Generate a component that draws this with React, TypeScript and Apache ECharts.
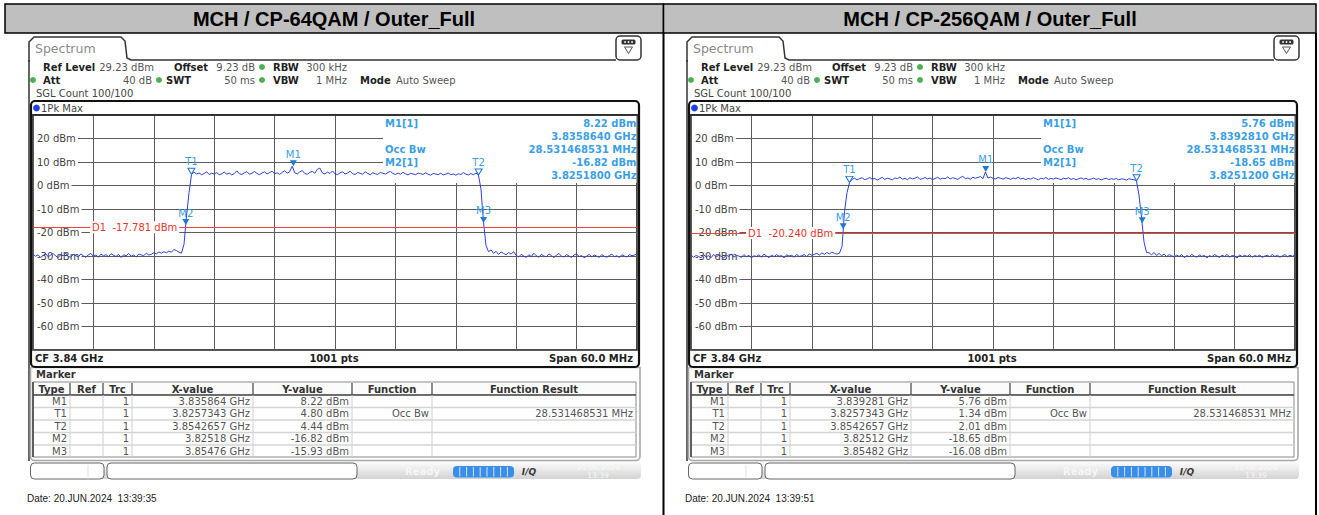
import React, { useEffect, useRef } from "react";
import * as echarts from "echarts";

// ---------------- data ----------------
const SPAN_START_MHZ = 3810;
const SPAN_STOP_MHZ = 3870;
const SAMPLE_STEP_MHZ = 0.25;
const GRID_STEP_MHZ = 6;
const LEVEL_MIN = -70;
const LEVEL_MAX = 30;
const LEVEL_STEP = 10;

const titles = ["MCH / CP-64QAM / Outer_Full", "MCH / CP-256QAM / Outer_Full"];
const dates = ["Date: 20.JUN.2024  13:39:35", "Date: 20.JUN.2024  13:39:51"];
const d1Levels = [-17.781, -20.24];

const trace64QAM = [
  -29.2, -30.1, -29.5, -30.6, -29.8, -29.0, -30.3, -29.7, -28.9, -30.0,
  -30.7, -29.4, -29.9, -28.8, -30.2, -30.5, -29.3, -29.8, -30.4, -29.1,
  -29.9, -30.6, -29.5, -28.9, -30.1, -29.6, -30.5, -29.2, -29.9, -29.4,
  -30.3, -29.0, -29.7, -30.2, -29.3, -30.6, -29.5, -29.9, -28.9, -30.1,
  -29.6, -30.4, -29.2, -29.5, -29.9, -28.8, -29.6, -29.3, -28.6, -29.1,
  -28.3, -28.8, -28.2, -28.6, -27.9, -28.4, -27.2, -27.7,
  -28.4, -28.8, -25.0, -13.0, -3.0,
  4.8,
  5.6, 4.9, 5.3, 4.6, 5.1, 5.8, 4.7, 5.2, 4.9, 5.5,
  4.6, 5.0, 5.7, 4.8, 5.3, 4.5, 5.1, 6.2, 5.0, 4.7,
  5.4, 5.9, 4.8, 5.2, 6.0, 5.1, 4.6, 5.3, 5.8, 4.9,
  5.5, 6.1, 5.0, 5.4, 4.7, 5.6, 6.3, 5.2, 5.9, 8.2,
  5.4, 4.9, 5.8, 6.4, 5.1, 4.8, 5.6, 6.0, 5.2, 6.9,
  7.4, 5.3, 4.9, 5.7, 5.1, 6.2, 5.0, 4.6, 5.4, 5.8,
  4.9, 5.3, 6.1, 5.0, 4.7, 5.5, 5.2, 4.8, 5.9, 5.1,
  4.6, 5.4, 5.0, 4.7, 5.6, 5.2, 4.9, 5.5, 6.0, 5.1,
  4.7, 5.3, 4.8, 5.6, 5.0, 4.5, 5.2, 4.9, 4.6, 5.3,
  5.0, 4.7, 5.4, 4.8, 4.4, 5.1, 4.9, 4.6, 5.2, 4.5,
  4.8, 5.3, 4.6, 4.9, 4.4, 5.0, 4.7, 5.5, 4.8, 4.5,
  5.1, 4.6, 5.3, 4.44,
  -1.5, -15.5, -25.5, -28.2,
  -27.4, -28.9, -28.0, -29.3, -28.3, -28.9, -29.5, -28.5, -29.2, -28.1,
  -29.8, -30.4, -29.3, -30.0, -30.6, -29.5, -30.2, -28.8, -29.9, -30.5,
  -29.3, -30.0, -30.3, -29.1, -29.8, -30.7, -29.6, -28.9, -30.1, -30.4,
  -29.4, -30.0, -30.6, -29.6, -29.0, -30.3, -29.8, -30.7, -30.1, -29.3,
  -30.4, -29.6, -30.0, -30.6, -29.4, -30.1, -30.5, -29.8, -29.2, -30.3,
  -29.9, -30.6, -29.5, -30.0, -30.4, -29.4, -29.9, -29.6, -29.1,
];

const trace256QAM = [
  -29.6, -30.5, -29.8, -30.2, -30.8, -29.5, -30.3, -29.9, -30.7, -29.3,
  -30.4, -29.7, -30.1, -30.9, -29.6, -30.2, -29.1, -30.5, -29.8, -30.0,
  -30.6, -29.4, -30.3, -29.7, -30.8, -29.9, -30.2, -29.5, -30.5, -29.2,
  -30.0, -30.7, -29.6, -30.3, -29.4, -30.1, -29.8, -30.8, -29.5, -30.0,
  -29.7, -30.5, -29.3, -30.2, -29.9, -29.4, -30.3, -29.1, -29.7, -29.3,
  -28.9, -29.6, -28.7, -29.3, -28.5, -29.1, -28.3, -28.9,
  -29.2, -28.8, -26.0, -11.0, -3.0,
  1.3,
  2.6, 3.1, 2.4, 2.9, 3.3, 2.5, 2.8, 3.4, 2.7, 3.0,
  2.3, 2.9, 3.5, 2.6, 3.1, 2.8, 2.4, 3.2, 2.9, 3.6,
  2.7, 3.0, 2.5, 3.3, 2.8, 3.1, 3.7, 2.6, 2.9, 3.4,
  2.8, 3.2, 2.5, 3.0, 3.5, 2.7, 3.1, 2.9, 3.6, 2.8,
  3.3, 3.0, 2.6, 3.4, 3.9, 2.9, 3.2, 2.7, 3.5, 3.1,
  3.4, 3.8, 2.9, 5.76, 3.2, 3.6, 3.0, 2.8, 3.4, 3.1,
  2.7, 3.3, 3.0, 2.6, 3.2, 2.9, 3.5, 2.8, 3.1, 2.5,
  3.0, 2.7, 3.3, 2.9, 2.4, 3.1, 2.8, 3.4, 2.6, 3.0,
  2.7, 3.2, 2.9, 2.5, 3.1, 2.8, 3.3, 2.6, 3.0, 2.4,
  2.9, 3.2, 2.7, 3.0, 2.5, 2.8, 3.1, 2.6, 2.9, 2.4,
  2.8, 3.1, 2.5, 2.9, 2.6, 3.0, 2.4, 2.8, 2.7, 2.3,
  2.9, 2.6, 2.5, 2.0,
  -4.0, -13.5, -24.0, -28.5,
  -28.6, -29.5, -28.5, -29.8, -28.9, -29.9, -29.2, -30.3, -29.4, -29.9,
  -30.4, -29.6, -30.2, -29.4, -30.7, -29.8, -30.3, -29.3, -30.1, -30.5,
  -29.6, -30.2, -29.7, -30.8, -29.8, -30.3, -29.4, -30.0, -30.6, -29.7,
  -30.2, -29.3, -30.5, -29.8, -30.0, -30.9, -29.5, -30.3, -29.7, -30.2,
  -29.4, -30.5, -29.8, -30.2, -29.6, -30.6, -30.0, -29.7, -30.3, -29.3,
  -30.2, -29.7, -30.5, -29.9, -29.4, -30.3, -29.7, -30.1, -29.6,
];

const markerNames = ["M1", "T1", "T2", "M2", "M3"];
const markerHollow = [false, true, true, false, false];
const markerFreq64 = [3835.864, 3825.7343, 3854.2657, 3825.18, 3854.76];
const markerLevel64 = [8.22, 4.8, 4.44, -16.82, -15.93];
const markerFreq256 = [3839.281, 3825.7343, 3854.2657, 3825.12, 3854.82];
const markerLevel256 = [5.76, 1.34, 2.01, -18.65, -16.08];

const tableX64 = ["3.835864 GHz", "3.8257343 GHz", "3.8542657 GHz", "3.82518 GHz", "3.85476 GHz"];
const tableY64 = ["8.22 dBm", "4.80 dBm", "4.44 dBm", "-16.82 dBm", "-15.93 dBm"];
const tableX256 = ["3.839281 GHz", "3.8257343 GHz", "3.8542657 GHz", "3.82512 GHz", "3.85482 GHz"];
const tableY256 = ["5.76 dBm", "1.34 dBm", "2.01 dBm", "-18.65 dBm", "-16.08 dBm"];
const tableFunction = ["", "Occ Bw", "", "", ""];
const tableResult = ["", "28.531468531 MHz", "", "", ""];
const tableHeaders = ["Type", "Ref", "Trc", "X-value", "Y-value", "Function", "Function Result"];

const infoLeft64 = ["M1[1]", "", "Occ Bw", "M2[1]", ""];
const infoRight64 = ["8.22 dBm", "3.8358640 GHz", "28.531468531 MHz", "-16.82 dBm", "3.8251800 GHz"];
const infoRight256 = ["5.76 dBm", "3.8392810 GHz", "28.531468531 MHz", "-18.65 dBm", "3.8251200 GHz"];

// ---------------- styling ----------------
const RS = '"DejaVu Sans", Verdana, sans-serif';
const ARIAL = '"Liberation Sans", Arial, sans-serif';
const TRACE = "#2f3fdc";
const MARK = "#1f78d1";
const MARK_TXT = "#3a9fe6";

const panelDX = [0, 658];
const titleBox = [
  { x: 5, w: 658.5, cx: 334 },
  { x: 663.5, w: 652.5, cx: 990 },
];

function txt(x: number, y: number, text: string, o: any = {}) {
  return {
    type: "text",
    x,
    y,
    z: o.z ?? 5,
    silent: true,
    style: {
      text,
      fontSize: o.size ?? 10,
      fontFamily: o.family ?? RS,
      fontWeight: o.bold ? "bold" : "normal",
      fontStyle: o.italic ? "italic" : "normal",
      fill: o.color ?? "#333",
      align: o.align ?? "left",
      verticalAlign: "middle",
    },
  };
}
function ln(x1: number, y1: number, x2: number, y2: number, stroke = "#333", lineWidth = 1, z = 4) {
  return { type: "line", z, silent: true, shape: { x1, y1, x2, y2 }, style: { stroke, lineWidth } };
}
function rc(x: number, y: number, w: number, h: number, style: any, r: any = 0, z = 4) {
  return { type: "rect", z, silent: true, shape: { x, y, width: w, height: h, r }, style };
}

function panelGraphics(i: number) {
  const d = panelDX[i];
  const tb = titleBox[i];
  const infoRight = i === 0 ? infoRight64 : infoRight256;
  const tX = i === 0 ? tableX64 : tableX256;
  const tY = i === 0 ? tableY64 : tableY256;
  const els: any[] = [];

  // title bar
  els.push(rc(tb.x, 4, tb.w, 29, { fill: "#bfbfbf", stroke: "#000", lineWidth: 1.5 }));
  els.push(txt(tb.cx, 18.5, titles[i], { family: ARIAL, bold: true, size: 20, color: "#000", align: "center" }));

  // spectrum tab + header
  els.push({
    type: "polyline",
    z: 4,
    silent: true,
    shape: { points: [[29 + d, 62], [29 + d, 42], [34 + d, 37], [121 + d, 37], [125 + d, 41], [127 + d, 58], [131 + d, 60], [616 + d, 60]] },
    style: { fill: "none", stroke: "#333", lineWidth: 1.5 },
  });
  els.push(txt(35 + d, 48.5, "Spectrum", { size: 12.5, color: "#8a8a8a" }));
  els.push(ln(29 + d, 60, 29 + d, 461, "#333", 1.5));
  // icon box
  els.push(rc(616 + d, 36, 25, 24, { fill: "#fff", stroke: "#333", lineWidth: 1.5 }, 4));
  els.push(rc(621.5 + d, 39.5, 14, 5, { fill: "#333" }, 1.5, 6));
  [625, 628.5, 632].forEach((cx) => els.push({ type: "circle", z: 7, silent: true, shape: { cx: cx + d, cy: 42, r: 0.9 }, style: { fill: "#fff" } }));
  els.push({ type: "polygon", z: 6, silent: true, shape: { points: [[624.5 + d, 47], [632.5 + d, 47], [628.5 + d, 53.5]] }, style: { fill: "none", stroke: "#555", lineWidth: 1 } });

  // info rows
  const dot = (x: number, y: number) => ({ type: "circle", z: 5, silent: true, shape: { cx: x + d, cy: y, r: 3 }, style: { fill: "#4caf50" } });
  els.push(txt(43 + d, 67, "Ref Level", { bold: true, color: "#222" }));
  els.push(txt(154 + d, 67, "29.23 dBm", { color: "#555", align: "right" }));
  els.push(txt(174 + d, 67, "Offset", { bold: true, color: "#222" }));
  els.push(txt(255 + d, 67, "9.23 dB", { color: "#555", align: "right" }));
  els.push(dot(262, 67));
  els.push(txt(273 + d, 67, "RBW", { bold: true, color: "#222" }));
  els.push(txt(347 + d, 67, "300 kHz", { color: "#555", align: "right" }));
  els.push(dot(33, 80));
  els.push(txt(43 + d, 80, "Att", { bold: true, color: "#222" }));
  els.push(txt(152 + d, 80, "40 dB", { color: "#555", align: "right" }));
  els.push(dot(159, 80));
  els.push(txt(166 + d, 80, "SWT", { bold: true, color: "#222" }));
  els.push(txt(255 + d, 80, "50 ms", { color: "#555", align: "right" }));
  els.push(dot(262, 80));
  els.push(txt(273 + d, 80, "VBW", { bold: true, color: "#222" }));
  els.push(txt(347 + d, 80, "1 MHz", { color: "#555", align: "right" }));
  els.push(txt(360 + d, 80, "Mode", { bold: true, color: "#222" }));
  els.push(txt(396 + d, 80, "Auto Sweep", { color: "#555" }));
  els.push(txt(36 + d, 93.5, "SGL Count 100/100", { color: "#444" }));

  // trace window frame
  els.push(rc(31 + d, 101, 608, 266, { fill: "none", stroke: "#111", lineWidth: 2.2 }, 4, 6));
  els.push(ln(31 + d, 115, 639 + d, 115, "#111", 1.2, 6));
  els.push({ type: "circle", z: 6, silent: true, shape: { cx: 36.5 + d, cy: 108, r: 3.4 }, style: { fill: "#1f3fe0" } });
  els.push(txt(41 + d, 108.5, "1Pk Max", { color: "#444" }));

  // marker info box inside the diagram
  els.push(rc(383 + d, 116, 253.5, 67, { fill: "#fff" }, 0, 1));
  const rowsY = [123.5, 136, 149, 162, 175];
  rowsY.forEach((y, k) => {
    if (infoLeft64[k]) els.push(txt(385 + d, y, infoLeft64[k], { bold: true, color: MARK_TXT }));
    els.push(txt(636.5 + d, y, infoRight[k], { bold: true, color: MARK_TXT, align: "right" }));
  });

  // bottom bar of diagram
  els.push(txt(35 + d, 358.5, "CF 3.84 GHz", { bold: true, color: "#222" }));
  els.push(txt(334 + d, 358.5, "1001 pts", { bold: true, color: "#222", align: "center" }));
  els.push(txt(633 + d, 358.5, "Span 60.0 MHz", { bold: true, color: "#222", align: "right" }));

  // marker table
  els.push(rc(30.5 + d, 367.5, 609.5, 93, { fill: "none", stroke: "#a8a8a8", lineWidth: 1.6 }, [0, 0, 4, 4], 4));
  els.push(txt(36 + d, 374.5, "Marker", { bold: true, color: "#333" }));
  const colX = [33, 70, 103, 132, 253, 352, 432, 636];
  const rowLines = [395, 407.5, 420, 432.5, 445, 457];
  const rowMid = [401.2, 413.7, 426.2, 438.7, 451];
  els.push(rc(33 + d, 382, 603, 13, { fill: "#fbfbfb", stroke: "#8a8a8a", lineWidth: 1 }, 0, 4));
  els.push(rc(33 + d, 395, 603, 62, { fill: "#fff", stroke: "#8a8a8a", lineWidth: 1 }, 0, 4));
  els.push(ln(33 + d, 395, 636 + d, 395, "#555", 1.4, 5));
  els.push(ln(33 + d, 382, 33 + d, 457, "#444", 1.6, 5));
  for (let c = 1; c < colX.length - 1; c++) {
    els.push(ln(colX[c] + d, 383, colX[c] + d, 395, "#444", 1.2, 5));
    els.push(ln(colX[c] + d, 395, colX[c] + d, 457, "#cfcfcf", 1, 5));
  }
  for (let r = 1; r < rowLines.length - 1; r++) els.push(ln(34 + d, rowLines[r], 636 + d, rowLines[r], "#d4d4d4", 1.6, 5));
  tableHeaders.forEach((h, c) => els.push(txt((colX[c] + colX[c + 1]) / 2 + d, 389, h, { bold: true, color: "#333", align: "center" })));
  markerNames.forEach((n, r) => {
    const y = rowMid[r];
    const cell = (c: number, s: string) => s && els.push(txt(colX[c + 1] - 3 + d, y, s, { color: "#555", align: "right" }));
    cell(0, n);
    cell(2, "1");
    cell(3, tX[r]);
    cell(4, tY[r]);
    cell(5, tableFunction[r]);
    cell(6, tableResult[r]);
  });

  // status bar
  els.push(
    rc(30 + d, 461, 611, 18, {
      fill: new echarts.graphic.LinearGradient(0, 0, 0, 1, [
        { offset: 0, color: "#fdfdfd" },
        { offset: 0.5, color: "#e9e9e9" },
        { offset: 1, color: "#d2d2d2" },
      ]),
    }, [0, 0, 4, 4], 3)
  );
  els.push(rc(30.5 + d, 463, 73.5, 16, { fill: "#fff", stroke: "#666", lineWidth: 1 }, 4, 5));
  els.push(ln(88 + d, 465, 88 + d, 477, "#e0e0e0", 1, 6));
  els.push(rc(107 + d, 463, 250, 16, { fill: "#fff", stroke: "#666", lineWidth: 1 }, 4, 5));
  els.push(txt(405 + d, 471, "Ready", { color: "#f6f6f6", bold: true }));
  els.push(rc(453 + d, 466, 61, 11.5, { fill: "#3b8ee8" }, 4, 5));
  for (let k = 1; k < 9; k++) els.push(ln(453 + d + k * 6.8, 467, 453 + d + k * 6.8, 476.5, "#cfe3fb", 1, 6));
  els.push(txt(529 + d, 471.5, "I/Q", { bold: true, italic: true, color: "#3a3a3a", align: "center", size: 9 }));
  els.push(txt(598 + d, 467, "20.06.2024", { color: "#f7f7f7", size: 7.5, align: "center" }));
  els.push(txt(598 + d, 475, "13:39", { color: "#f7f7f7", size: 7.5, align: "center" }));

  // date
  els.push(txt(27 + d, 498.5, dates[i], { family: ARIAL, size: 10, color: "#222" }));
  return els;
}

function buildOption() {
  const traces = [trace64QAM, trace256QAM];
  const mFreq = [markerFreq64, markerFreq256];
  const mLevel = [markerLevel64, markerLevel256];
  const d1LabelFreq = [3820.1, 3819.9];

  const grid = panelDX.map((d) => ({
    left: 33 + d,
    top: 115,
    width: 604,
    height: 235,
    show: true,
    borderColor: "#111",
    borderWidth: 1.5,
    backgroundColor: "transparent",
  }));
  const xAxis = panelDX.map((_, i) => ({
    type: "value",
    gridIndex: i,
    min: SPAN_START_MHZ,
    max: SPAN_STOP_MHZ,
    interval: GRID_STEP_MHZ,
    axisLine: { show: false },
    axisTick: { show: false },
    axisLabel: { show: false },
    splitLine: { show: true, lineStyle: { color: "#5c5c5c", width: 1 } },
  }));
  const yAxis: any[] = [];
  panelDX.forEach((_, i) => {
    yAxis.push({
      type: "value",
      gridIndex: i,
      position: "left",
      min: LEVEL_MIN,
      max: LEVEL_MAX,
      interval: LEVEL_STEP,
      axisLine: { show: false },
      axisTick: { show: false },
      axisLabel: { show: false },
      splitLine: { show: true, lineStyle: { color: "#5c5c5c", width: 1 } },
    });
    yAxis.push({
      type: "value",
      gridIndex: i,
      position: "left",
      offset: 0,
      z: 1,
      min: LEVEL_MIN,
      max: LEVEL_MAX,
      interval: LEVEL_STEP,
      axisLine: { show: false, onZero: false },
      axisTick: { show: false },
      splitLine: { show: false },
      axisLabel: {
        inside: true,
        margin: 1,
        formatter: "{value} dBm",
        color: "#444",
        fontSize: 10,
        fontFamily: RS,
        backgroundColor: "#fff",
        padding: [1, 2, 1, 3],
        showMinLabel: false,
        showMaxLabel: false,
      },
    });
  });

  const series = traces.map((tr, i) => ({
    type: "line",
    xAxisIndex: i,
    yAxisIndex: i * 2,
    z: 2,
    showSymbol: false,
    silent: true,
    data: tr.map((v, k) => [SPAN_START_MHZ + k * SAMPLE_STEP_MHZ, v]),
    lineStyle: { color: TRACE, width: 1 },
    markLine: {
      silent: true,
      symbol: ["none", "none"],
      label: { show: false },
      lineStyle: { color: "#f0443a", width: 1, type: "solid" },
      data: [{ yAxis: d1Levels[i] }],
    },
    markPoint: {
      silent: true,
      data: [
        ...markerNames.map((n, k) => ({
          coord: [mFreq[i][k], mLevel[i][k]],
          symbol: "path://M0,0L10,0L5,9Z",
          symbolSize: [7, 6],
          symbolOffset: [0, -3],
          itemStyle: markerHollow[k]
            ? { color: "#fff", borderColor: MARK, borderWidth: 1 }
            : { color: MARK },
          label: { show: true, formatter: n, position: "top", distance: 1, color: MARK_TXT, fontSize: 10, fontFamily: RS },
        })),
        {
          coord: [d1LabelFreq[i], d1Levels[i]],
          symbol: "rect",
          symbolSize: 1,
          itemStyle: { color: "rgba(0,0,0,0)" },
          label: {
            show: true,
            position: "inside",
            formatter: "D1  " + d1Levels[i].toFixed(3) + " dBm",
            color: "#e8342a",
            fontSize: 10,
            fontFamily: RS,
            backgroundColor: "#fff",
            padding: [1, 2],
          },
        },
      ],
    },
  }));

  const elements: any[] = [
    ...panelGraphics(0),
    ...panelGraphics(1),
    ln(663.5, 33, 663.5, 515, "#000", 2, 8),
    ln(1316, 33, 1316, 515, "#000", 2, 8),
  ];

  return {
    animation: false,
    backgroundColor: "#fff",
    grid,
    xAxis,
    yAxis,
    series,
    graphic: { elements },
  };
}

export default function App() {
  const ref = useRef<HTMLDivElement>(null);
  useEffect(() => {
    if (!ref.current) return;
    const chart = echarts.init(ref.current, undefined, { renderer: "svg" });
    chart.setOption(buildOption() as any);
    return () => chart.dispose();
  }, []);
  return (
    <div
      ref={ref}
      style={{ position: "absolute", left: 0, top: 0, width: 1319, height: 515, background: "#fff" }}
    />
  );
}
